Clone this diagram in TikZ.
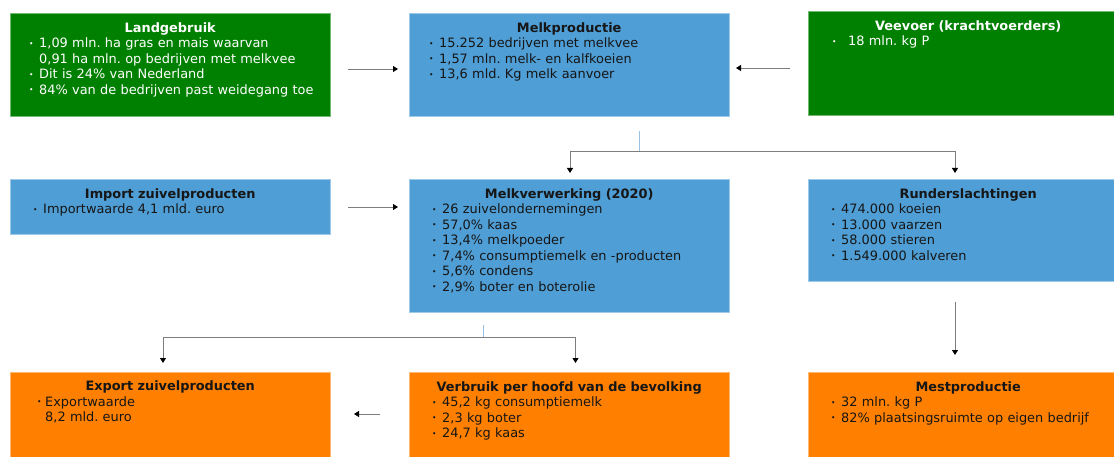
\documentclass[tikz,border=0pt]{standalone}
\usepackage{fontspec}
\setmainfont{DejaVu Sans}
\usetikzlibrary{arrows.meta}
\definecolor{cgreen}{RGB}{0,128,0}
\definecolor{cblue}{RGB}{79,158,213}
\definecolor{corange}{RGB}{255,128,0}
\definecolor{cline}{RGB}{125,125,125}
\definecolor{ctick}{RGB}{150,192,228}
\definecolor{ctext}{RGB}{22,22,22}
\newlength\bhang
\newcommand\bdot{{\fontsize{7.5}{7.5}\selectfont\raisebox{1.5pt}{•}}}
\newcommand\bitem[1]{\par\noindent\makebox[\bhang][l]{\bdot}#1}
\newcommand\bcont[1]{\par\noindent\hspace*{\bhang}#1}
\newcommand\btitle[1]{{\centering\bfseries\rule{0pt}{10pt}#1\par}}
\newcommand\blist[2]{\setlength\leftskip{#1pt}\setlength\rightskip{0pt plus 1fil}\setlength\bhang{#2pt}}
\tikzset{
  box/.style={anchor=north west, inner sep=0pt, outer sep=0pt, minimum width=320pt, draw=#1!55!white, line width=0.6pt, fill=#1},
  txt/.style={anchor=north west, inner sep=0pt, text width=320pt, font=\fontsize{12.9}{15.5}\selectfont\frenchspacing, text=ctext},
  wtxt/.style={txt, text=white},
  arr/.style={draw=cline, line width=0.9pt, -{Triangle[length=5pt,width=6pt,color=black]}},
  tickline/.style={draw=ctick, line width=1pt}
}
\begin{document}
\begin{tikzpicture}[x=1pt,y=-1pt]
\useasboundingbox (0,0) rectangle (1114,457);
\clip (0,0) rectangle (1114,457);
% boxes
\node[box=cgreen, minimum height=103pt] (lg) at (10,13) {};
\node[box=cblue, minimum height=103pt] (mp) at (409,13) {};
\node[box=cgreen, minimum height=104pt] (vv) at (808,11) {};
\node[box=cblue, minimum height=55pt] (im) at (10,179) {};
\node[box=cblue, minimum height=133pt] (mv) at (409,179) {};
\node[box=cblue, minimum height=102pt] (rs) at (808,179) {};
\node[box=corange, minimum height=100pt] (ex) at (10,372) {};
\node[box=corange, minimum height=100pt] (vb) at (409,372) {};
\node[box=corange, minimum height=100pt] (ms) at (808,372) {};
% texts
\node[wtxt] (lgT) at (10,22) {\btitle{Landgebruik}\blist{19}{10}%
\bitem{1,09 mln. ha gras en mais waarvan}%
\bcont{0,91 ha mln. op bedrijven met melkvee}%
\bitem{Dit is 24\% van Nederland}%
\bitem{84\% van de bedrijven past weidegang toe}\par};
\node[txt] (mpT) at (409,22) {\btitle{Melkproductie}\blist{20}{10}%
\bitem{15.252 bedrijven met melkvee}%
\bitem{1,57 mln. melk- en kalfkoeien}%
\bitem{13,6 mld. Kg melk aanvoer}\par};
\node[wtxt] (vvT) at (808,20) {\btitle{Veevoer (krachtvoerders)}\blist{24}{16}%
\bitem{18 mln. kg P}\par};
\node[txt] (imT) at (10,188) {\btitle{Import zuivelproducten}\blist{23}{10}%
\bitem{Importwaarde 4,1 mld. euro}\par};
\node[txt] (mvT) at (409,188) {\btitle{Melkverwerking (2020)}\blist{23}{10}%
\bitem{26 zuivelondernemingen}%
\bitem{57,0\% kaas}%
\bitem{13,4\% melkpoeder}%
\bitem{7,4\% consumptiemelk en -producten}%
\bitem{5,6\% condens}%
\bitem{2,9\% boter en boterolie}\par};
\node[txt] (rsT) at (808,188) {\btitle{Runderslachtingen}\blist{23}{10}%
\bitem{474.000 koeien}%
\bitem{13.000 vaarzen}%
\bitem{58.000 stieren}%
\bitem{1.549.000 kalveren}\par};
\node[txt] (exT) at (10,380.5) {\btitle{Export zuivelproducten}\blist{27}{8}%
\bitem{Exportwaarde}%
\bcont{8,2 mld. euro}\par};
\node[txt] (vbT) at (409,381) {\btitle{Verbruik per hoofd van de bevolking}\blist{23}{10}%
\bitem{45,2 kg consumptiemelk}%
\bitem{2,3 kg boter}%
\bitem{24,7 kg kaas}\par};
\node[txt] (msT) at (808,381) {\btitle{Mestproductie}\blist{23}{10}%
\bitem{32 mln. kg P}%
\bitem{82\% plaatsingsruimte op eigen bedrijf}\par};
% connectors
\draw[arr, shorten <=18pt, shorten >=11pt] (lg.east |- 0,69) -- (mp.west |- 0,69);
\draw[arr, shorten <=18pt, shorten >=7pt] (vv.west |- 0,68) -- (mp.east |- 0,68);
\draw[arr, shorten <=18pt, shorten >=11pt] (im.east |- 0,207) -- (mv.west |- 0,207);
\coordinate (t1) at (639,131);
\coordinate (j1) at (639,151);
\draw[tickline] (t1) -- (j1);
\draw[arr, shorten >=6pt] (j1) -| ([xshift=1pt]mv.north);
\draw[arr, shorten >=6pt] (j1) -| ([xshift=-13pt]rs.north);
\draw[arr, shorten <=21pt, shorten >=17pt] ([xshift=-13pt]rs.south) -- ([xshift=-13pt]ms.north);
\coordinate (t2) at (483,325);
\coordinate (j2) at (483,337);
\draw[tickline] (t2) -- (j2);
\draw[arr, shorten >=9pt] (j2) -| ([xshift=-7pt]ex.north);
\draw[arr, shorten >=9pt] (j2) -| ([xshift=6.5pt]vb.north);
\draw[arr, shorten <=29pt, shorten >=24pt] (vb.west |- 0,414) -- (ex.east |- 0,414);
\end{tikzpicture}
\end{document}
